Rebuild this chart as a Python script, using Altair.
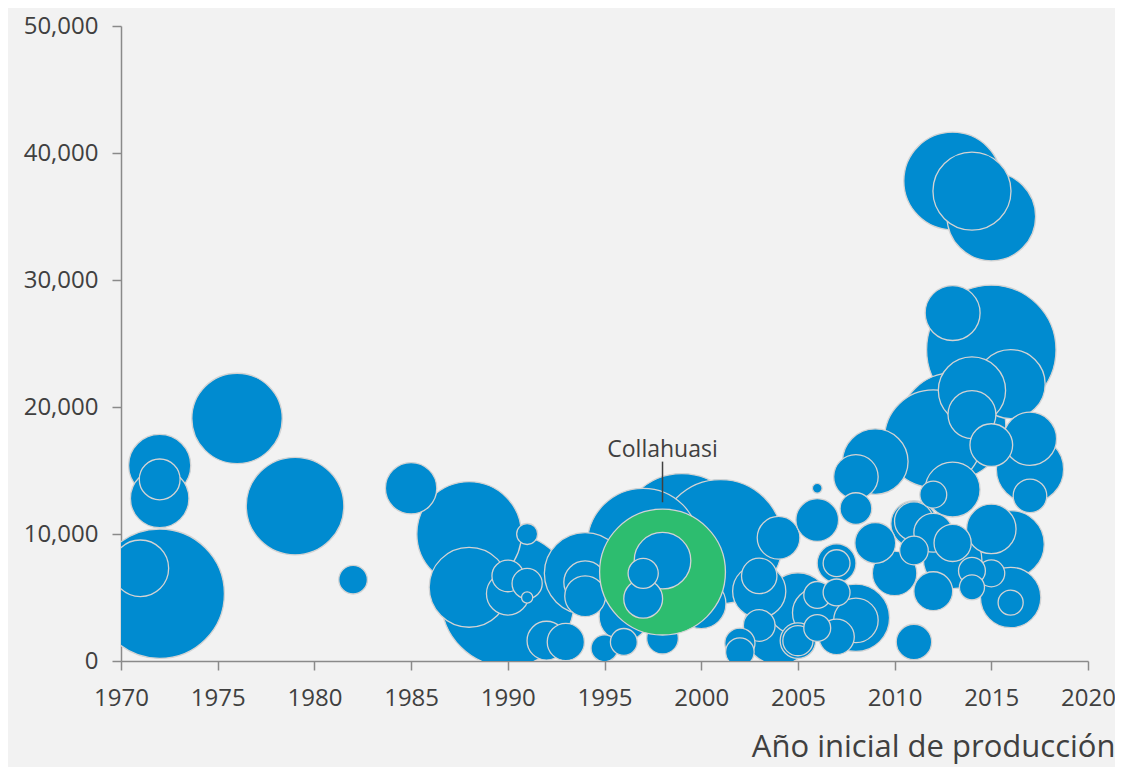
import altair as alt
import pandas as pd
import math

# ---- datos ----
# Faenas (excepto Collahuasi): año inicial, producción, capacidad (tamaño de burbuja)
anios = [
    1972, 1971, 1972, 1972, 1972, 1976, 1979, 1982, 1985,
    1988, 1990, 1988, 1990, 1990, 1991, 1991, 1991, 1992, 1993, 1994, 1994, 1994,
    1995, 1996, 1996, 1998, 1997, 1999, 2001, 2000,
    2004, 2003, 2003, 2003, 2002, 2002, 2004, 2005, 2005, 2005, 2006, 2006, 2006,
    2006, 2006, 2007, 2007, 2007, 2007, 2008, 2008, 2008, 2008, 2009, 2009, 2010,
    2011, 2012, 2011, 2012, 2011, 2011, 2015, 2013, 2016, 2013, 2012, 2014, 2014,
    2015, 2017, 2017, 2017, 2013, 2015, 2013, 2016, 2016, 2016, 2015, 2014, 2014,
    2012, 2013, 2013, 2015, 2014,
]
produccion = [
    5300, 7300, 15400, 12800, 14300, 19100, 12200, 6400, 13600,
    10000, 4800, 5800, 6700, 5300, 6100, 5000, 10000, 1600, 1500, 6900, 6200, 5100,
    1000, 1500, 3500, 1800, 9200, 9800, 9400, 4500,
    9700, 6700, 5500, 2800, 1400, 700, 2500, 4500, 1600, 1600, 13600, 11100, 5200,
    2600, 3800, 7700, 7700, 5400, 1900, 3200, 3400, 12000, 14500, 15700, 9300, 6900,
    1500, 5500, 8700, 13100, 11000, 10800, 24500, 27400, 21800, 18500, 17500, 21300, 19400,
    17000, 17500, 15100, 13000, 13500, 10400, 9300, 9200, 5000, 4600, 6900, 7100, 5800,
    10100, 8000, 37800, 35000, 37000,
]
capacidad = [
    533, 102, 123, 109, 53, 260, 303, 26, 84,
    348, 563, 203, 32, 58, 29, 4, 14, 48, 44, 212, 58, 53,
    23, 23, 78, 32, 397, 504, 490, 78,
    58, 40, 90, 32, 29, 26, 160, 123, 40, 29, 3, 58, 23,
    23, 78, 23, 48, 23, 40, 63, 144, 32, 63, 137, 53, 63,
    40, 48, 26, 23, 48, 68, 533, 96, 152, 360, 303, 144, 73,
    58, 90, 144, 36, 96, 78, 44, 144, 116, 20, 23, 23, 20,
    48, 109, 303, 250, 194,
]

# Collahuasi
colla_anio = [1998]
colla_prod = [7000]
colla_cap = [504]

# faenas dibujadas sobre Collahuasi
sobre_anios = [1998, 1997, 1997]
sobre_prod = [7900, 6900, 4900]
sobre_cap = [102, 29, 48]

# etiqueta
etiqueta = ["Collahuasi"]
etiqueta_y = [16100]
linea_y1 = [15700]
linea_y2 = [12500]

x_ticks = list(range(1970, 2021, 5))
y_ticks = [0, 10000, 20000, 30000, 40000, 50000]

# ---- tabla ----
base = pd.DataFrame({"anio": anios, "valor": produccion, "cap": capacidad, "grupo": "Otras"})
base = base.sort_values("cap", ascending=False, kind="stable")
colla = pd.DataFrame({"anio": colla_anio, "valor": colla_prod, "cap": colla_cap, "grupo": "Collahuasi"})
sobre = pd.DataFrame({"anio": sobre_anios, "valor": sobre_prod, "cap": sobre_cap, "grupo": "Otras"})
sobre = sobre.sort_values("cap", ascending=False, kind="stable")
df = pd.concat([base, colla, sobre], ignore_index=True)
df["orden"] = range(len(df))

FONT = "Open Sans"
TXT = "#404040"
AX = "#8a8a8a"

x_enc = alt.X(
    "anio:Q",
    scale=alt.Scale(domain=[1970, 2020], nice=False, zero=False),
    axis=alt.Axis(
        values=x_ticks, format="d", title="Año inicial de producción",
        titleX=994, titleY=95, titleAlign="right", titleBaseline="alphabetic",
        titleFontSize=31, titleFontWeight="normal", titleColor=TXT, titleFont=FONT,
        labelPadding=16, tickSize=9, labelFlush=False, labelOverlap=False,
    ),
)
y_enc = alt.Y(
    "valor:Q",
    scale=alt.Scale(domain=[0, 50000], nice=False),
    axis=alt.Axis(values=y_ticks, format=",d", title=None, labelPadding=14, tickSize=9,
                  labelFlush=False, labelOverlap=False),
)

burbujas = alt.Chart(df).mark_circle(
    opacity=1, stroke="#d3d3d3", strokeWidth=1.3, clip=True
).encode(
    x=x_enc,
    y=y_enc,
    size=alt.Size("cap:Q", scale=alt.Scale(domain=[0, 1000], range=[0, 1000 * math.pi * 10]), legend=None),
    color=alt.Color("grupo:N", scale=alt.Scale(domain=["Otras", "Collahuasi"], range=["#008bd0", "#2dbd6f"]), legend=None),
    order=alt.Order("orden:Q"),
)

lab_df = pd.DataFrame({"anio": colla_anio, "valor": etiqueta_y, "texto": etiqueta,
                       "y1": linea_y1, "y2": linea_y2})

texto = alt.Chart(lab_df).mark_text(
    font=FONT, fontSize=23, color=TXT, align="center", baseline="alphabetic"
).encode(x="anio:Q", y="valor:Q", text="texto:N")

linea = alt.Chart(lab_df).mark_rule(color="#404040", strokeWidth=1.5).encode(
    x="anio:Q", y="y1:Q", y2="y2:Q"
)

chart = alt.layer(burbujas, linea, texto).properties(
    width=967, height=635,
    padding={"left": 113, "top": 18, "right": 27, "bottom": 106},
    autosize=alt.AutoSizeParams(type="none"),
    background="#f2f2f2",
).configure_view(strokeWidth=0).configure_axis(
    grid=False, domainColor=AX, tickColor=AX, domainWidth=1.5, tickWidth=1.5,
    labelFont=FONT, labelFontSize=24, labelColor=TXT,
)

chart.save("out.html", embed_options={"renderer": "svg", "actions": False})
